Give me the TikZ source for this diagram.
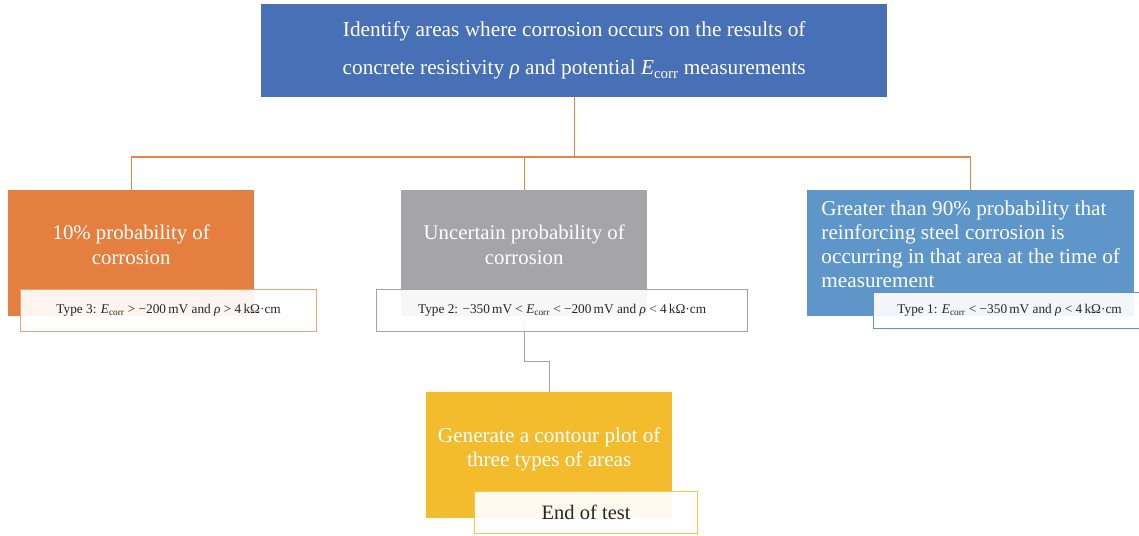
\documentclass[tikz,border=0pt]{standalone}
\usepackage{fontspec}
\setmainfont{Liberation Serif}
\definecolor{topblau}{HTML}{4770B6}
\definecolor{orange10}{HTML}{E47F3F}
\definecolor{grauk}{HTML}{A5A5A8}
\definecolor{hellblau}{HTML}{5E96CA}
\definecolor{gelb}{HTML}{F3BC2D}
\definecolor{astorange}{HTML}{E8834A}
\definecolor{astgrau}{HTML}{A3A3A5}
\newcommand\ecorr{\textit{E}\textsubscript{corr}}

\begin{document}
\begin{tikzpicture}[x=1pt,y=-1pt,
  kasten/.style={anchor=north west,inner sep=0pt,text=white,align=center},
  typ/.style={anchor=north west,inner sep=0pt,fill=white,fill opacity=.92,text opacity=1,
    line width=1.2pt,text=black!85,font=\fontsize{13.3}{15}\selectfont},
  ast/.style={draw=astorange,line width=1.3pt}]
  \useasboundingbox (0,0) rectangle (1139,535);
  % Kaesten
  \node[kasten,fill=topblau,minimum width=626pt,minimum height=93pt,
    font=\fontsize{21.3}{38}\selectfont] (ziel) at (261,4)
    {Identify areas where corrosion occurs on the results of\\
     concrete resistivity \textit{ρ} and potential \ecorr{} measurements};
  \node[kasten,fill=orange10,minimum width=246pt,minimum height=126pt,text depth=17pt,
    font=\fontsize{20.8}{25}\selectfont] (prob10) at (8,190) {10\% probability of\\corrosion};
  \node[kasten,fill=grauk,minimum width=246pt,minimum height=126pt,text depth=17pt,
    font=\fontsize{20.8}{25}\selectfont] (unsicher) at (401,190) {Uncertain probability of\\corrosion};
  \node[kasten,fill=hellblau,minimum width=327pt,minimum height=126pt,text depth=18pt,
    align=left,font=\fontsize{21.2}{24}\selectfont] (hoch) at (807,190)
    {Greater than 90\% probability that\\reinforcing steel corrosion is\\
     occurring in that area at the time of\\measurement};
  \node[kasten,fill=gelb,minimum width=246pt,minimum height=126pt,text depth=16pt,
    font=\fontsize{21.2}{24}\selectfont] (kontur) at (426,392)
    {Generate a contour plot of\\three types of areas};
  % Verbindungen
  \coordinate (mitte) at (574,157);
  \draw[ast] (ziel.south) -- (ziel.south |- mitte);
  \draw[ast] (prob10.north) |- (mitte) -| (hoch.north);
  \draw[ast] (unsicher.north) -- (unsicher.north |- mitte);
  \draw[draw=astgrau,line width=1.3pt] (unsicher.south) -- ++(0,45) -| (kontur.north);
  % Typen
  \node[typ,draw=astorange!75,minimum width=296pt,minimum height=42pt] (typ3) at (20,289)
    {Type 3: \ecorr{} > −200\,mV and \textit{ρ} > 4\,kΩ·cm};
  \node[typ,draw=astgrau,minimum width=371pt,minimum height=42pt] (typ2) at (376,289)
    {Type 2: −350\,mV < \ecorr{} < −200\,mV and \textit{ρ} < 4\,kΩ·cm};
  \node[typ,draw=hellblau,minimum width=272pt,minimum height=36pt] (typ1) at (873,292)
    {Type 1: \ecorr{} < −350\,mV and \textit{ρ} < 4\,kΩ·cm};
  \node[typ,draw=gelb!85,minimum width=223pt,minimum height=42pt,
    font=\fontsize{20.5}{22}\selectfont] (ende) at (474,491) {End of test};
\end{tikzpicture}
\end{document}
